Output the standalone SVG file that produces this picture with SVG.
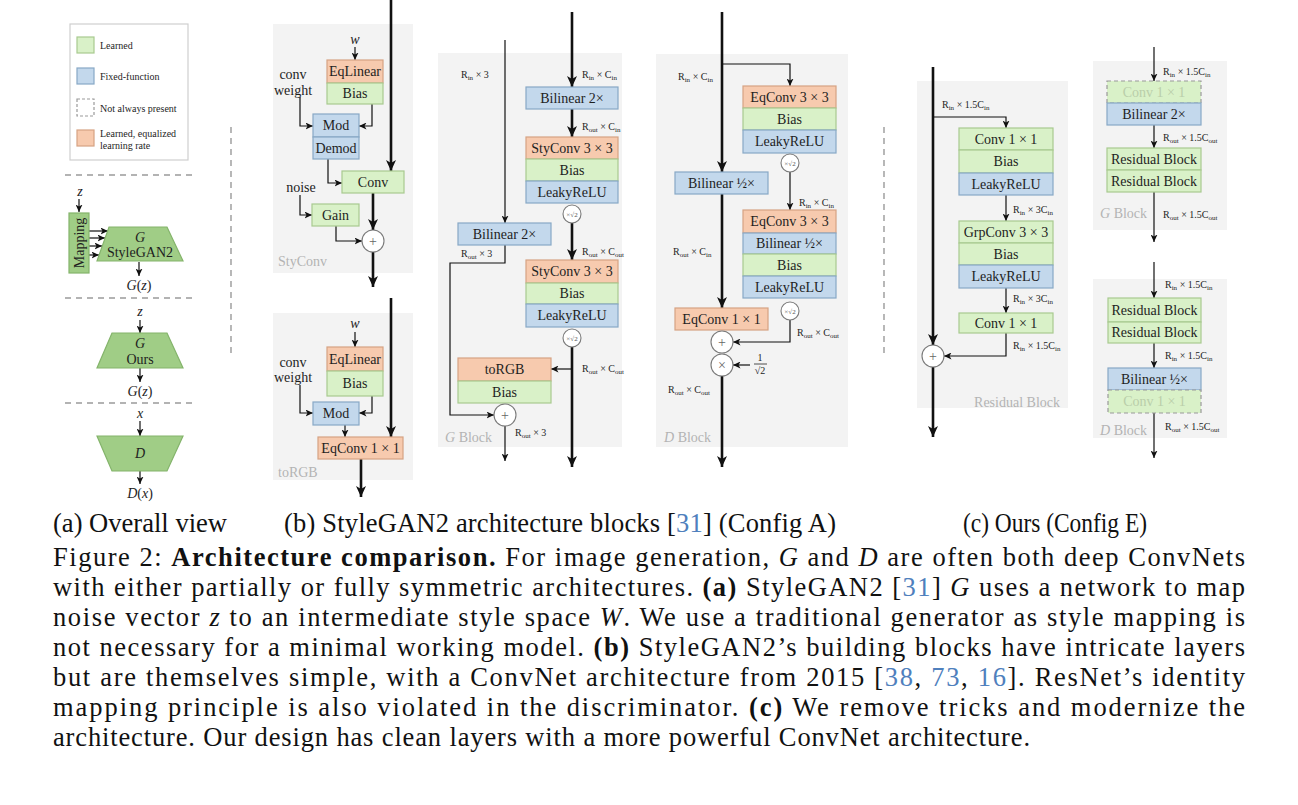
<svg xmlns="http://www.w3.org/2000/svg" width="1298" height="805" viewBox="0 0 1298 805">
<defs>
<style>
.g{fill:#d9f1c8;stroke:#a8ca90;stroke-width:1.2}
.b{fill:#c3d8ec;stroke:#88a8c6;stroke-width:1.2}
.o{fill:#f7caae;stroke:#d6a283;stroke-width:1.2}
.dg{fill:#d9f1c8;stroke:#9a9a9a;stroke-width:1.2;stroke-dasharray:4 3}
.tg{fill:#a0cd86;stroke:#84b46b;stroke-width:1.2}
.panel{fill:#f3f3f3}
text{font-family:"Liberation Serif","DejaVu Serif",serif;fill:#1e1e1e}
.t{font-size:14px;text-anchor:middle}
.tf{font-size:14px;text-anchor:middle;fill:#b9ceaa}
.i{font-style:italic}
.l{font-size:10px}
.s{font-size:7px}
.lg{font-size:10px}
.gray{font-size:14px;fill:#b3b3b3}
.cap{font-size:26.5px;fill:#111}
.blue{fill:#4f80bd}
.thick{stroke:#111;stroke-width:2.6;fill:none}
.thin{stroke:#111;stroke-width:1.2;fill:none}
.dash{stroke:#9a9a9a;stroke-width:1.4;stroke-dasharray:6 5;fill:none}
.circ{fill:#fff;stroke:#7a7a7a;stroke-width:1.1}
.ct{font-size:14px;text-anchor:middle;fill:#666}
.cs{font-size:7px;text-anchor:middle;fill:#555}
</style>
<marker id="ah" markerUnits="userSpaceOnUse" markerWidth="12" markerHeight="10" refX="11" refY="5" orient="auto"><path d="M0,0 L11,5 L0,10 L3,5 z" fill="#111"/></marker>
<marker id="at" markerUnits="userSpaceOnUse" markerWidth="8" markerHeight="7" refX="7.5" refY="3.5" orient="auto"><path d="M0,0 L7.5,3.5 L0,7 L2,3.5 z" fill="#111"/></marker>
</defs>
<rect width="1298" height="805" fill="#fff"/>

<!-- panels -->
<g id="panels">
<rect class="panel" x="273" y="24" width="140" height="249"/>
<rect class="panel" x="273" y="313" width="140" height="167"/>
<rect class="panel" x="438" y="53" width="184" height="394"/>
<rect class="panel" x="656" y="54" width="192" height="393"/>
<rect class="panel" x="917" y="81" width="151" height="327"/>
<rect class="panel" x="1093" y="61" width="134" height="169"/>
<rect class="panel" x="1093" y="279" width="134" height="159"/>
<text class="gray" x="278" y="266">StyConv</text>
<text class="gray" x="278" y="477">toRGB</text>
<text class="gray" x="445" y="442"><tspan class="i">G</tspan> Block</text>
<text class="gray" x="664" y="442"><tspan class="i">D</tspan> Block</text>
<text class="gray" x="1060" y="407" text-anchor="end">Residual Block</text>
<text class="gray" x="1100" y="218"><tspan class="i">G</tspan> Block</text>
<text class="gray" x="1100" y="435"><tspan class="i">D</tspan> Block</text>
</g>

<!-- separators -->
<g id="separators">
<line class="dash" x1="231" y1="127" x2="231" y2="355"/>
<line class="dash" x1="884" y1="127" x2="884" y2="355"/>
<line class="dash" x1="65" y1="175" x2="193" y2="175"/>
<line class="dash" x1="65" y1="298" x2="193" y2="298"/>
<line class="dash" x1="65" y1="403" x2="193" y2="403"/>
</g>

<!-- legend -->
<g id="legend">
<rect x="70" y="24" width="118" height="136" fill="#fff" stroke="#cfcfcf" stroke-width="1.2"/>
<rect class="g" x="77" y="37" width="17" height="16"/>
<rect class="b" x="77" y="68" width="17" height="16"/>
<rect x="77" y="99" width="17" height="17" fill="none" stroke="#9a9a9a" stroke-width="1.2" stroke-dasharray="3 2"/>
<rect class="o" x="77" y="130" width="17" height="16"/>
<text class="lg" x="100" y="49">Learned</text>
<text class="lg" x="100" y="80">Fixed-function</text>
<text class="lg" x="100" y="112" fill="#b5b5b5">Not always present</text>
<text class="lg" x="100" y="137">Learned, equalized</text>
<text class="lg" x="100" y="149">learning rate</text>
</g>

<!-- connectors -->
<g id="connectors">
<path class="thin" d="M79,199 V212" marker-end="url(#at)"/>
<path class="thin" d="M89,231 H108" marker-end="url(#at)"/>
<path class="thin" d="M89,238 H105" marker-end="url(#at)"/>
<path class="thin" d="M89,246 H102" marker-end="url(#at)"/>
<path class="thin" d="M89,255 H99" marker-end="url(#at)"/>
<path class="thin" d="M139,262 V276" marker-end="url(#at)"/>
<path class="thin" d="M140,320 V333" marker-end="url(#at)"/>
<path class="thin" d="M140,368 V382" marker-end="url(#at)"/>
<path class="thin" d="M140,421 V436" marker-end="url(#at)"/>
<path class="thin" d="M140,471 V484" marker-end="url(#at)"/>
<path class="thick" d="M391,0 V171" marker-end="url(#ah)"/>
<path class="thin" d="M355,47 V60" marker-end="url(#at)"/>
<path class="thin" d="M300,97 V126 H313" marker-end="url(#at)"/>
<path class="thin" d="M372,104 V126 H359" marker-end="url(#at)"/>
<path class="thin" d="M328,159 V183 H342" marker-end="url(#at)"/>
<path class="thin" d="M300,195 V215 H312" marker-end="url(#at)"/>
<path class="thin" d="M336,226 V241 H362" marker-end="url(#at)"/>
<path class="thick" d="M373,193 V230" marker-end="url(#ah)"/>
<path class="thick" d="M373,252 V287" marker-end="url(#ah)"/>
<path class="thick" d="M391,298 V437" marker-end="url(#ah)"/>
<path class="thin" d="M355,332 V347" marker-end="url(#at)"/>
<path class="thin" d="M300,385 V413 H313" marker-end="url(#at)"/>
<path class="thin" d="M372,396 V413 H359" marker-end="url(#at)"/>
<path class="thin" d="M345,425 V437" marker-end="url(#at)"/>
<path class="thick" d="M361,459 V497" marker-end="url(#ah)"/>
<path class="thin" d="M505,40 V223" marker-end="url(#at)"/>
<path class="thick" d="M572,12 V87" marker-end="url(#ah)"/>
<path class="thick" d="M572,109 V137" marker-end="url(#ah)"/>
<path class="thick" d="M572,223 V260" marker-end="url(#ah)"/>
<path class="thin" d="M505,245 V263 H450 V415 H494" marker-end="url(#at)"/>
<path class="thick" d="M572,347 V467" marker-end="url(#ah)"/>
<path class="thin" d="M572,369 H551" marker-end="url(#at)"/>
<path class="thin" d="M505,426 V461" marker-end="url(#at)"/>
<path class="thick" d="M722,12 V172" marker-end="url(#ah)"/>
<path class="thin" d="M722,64 H790 V86" marker-end="url(#at)"/>
<path class="thin" d="M790,172 V210" marker-end="url(#at)"/>
<path class="thick" d="M722,194 V308" marker-end="url(#ah)"/>
<path class="thin" d="M790,320 V342 H733" marker-end="url(#at)"/>
<path class="thin" d="M750,365 H733" marker-end="url(#at)"/>
<path class="thick" d="M722,376 V467" marker-end="url(#ah)"/>
<path class="thick" d="M933,67 V345" marker-end="url(#ah)"/>
<path class="thin" d="M933,117 H1006 V128" marker-end="url(#at)"/>
<path class="thin" d="M1006,195 V221" marker-end="url(#at)"/>
<path class="thin" d="M1006,288 V313" marker-end="url(#at)"/>
<path class="thin" d="M1006,333 V356 H944" marker-end="url(#at)"/>
<path class="thick" d="M933,367 V437" marker-end="url(#ah)"/>
<path class="thin" d="M1154,47 V81" marker-end="url(#at)"/>
<path class="thin" d="M1154,125 V148" marker-end="url(#at)"/>
<path class="thin" d="M1154,192 V242" marker-end="url(#at)"/>
<path class="thin" d="M1154,262 V298" marker-end="url(#at)"/>
<path class="thin" d="M1154,343 V368" marker-end="url(#at)"/>
<path class="thin" d="M1154,413 V458" marker-end="url(#at)"/>
</g>

<!-- overall view nodes -->
<g id="ov-z1"><text class="t i" x="80" y="196">z</text></g>
<g id="ov-mapping"><rect class="tg" x="69" y="213" width="20" height="60"/><text class="t" transform="translate(84,243) rotate(-90)" x="0" y="0">Mapping</text></g>
<g id="ov-stylegan2"><polygon class="tg" points="109,227 167,227 183,261 97,261"/><text class="t i" x="140" y="242">G</text><text class="t" x="140" y="257">StyleGAN2</text></g>
<g id="ov-gz1"><text class="t" x="139" y="290"><tspan class="i">G</tspan>(<tspan class="i">z</tspan>)</text></g>
<g id="ov-z2"><text class="t i" x="140" y="316">z</text></g>
<g id="ov-ours"><polygon class="tg" points="112,333 167,333 183,368 97,368"/><text class="t i" x="140" y="348">G</text><text class="t" x="140" y="364">Ours</text></g>
<g id="ov-gz2"><text class="t" x="140" y="396"><tspan class="i">G</tspan>(<tspan class="i">z</tspan>)</text></g>
<g id="ov-x"><text class="t i" x="140" y="418">x</text></g>
<g id="ov-d"><polygon class="tg" points="97,436 183,436 167,471 112,471"/><text class="t i" x="140" y="458">D</text></g>
<g id="ov-dx"><text class="t" x="140" y="498"><tspan class="i">D</tspan>(<tspan class="i">x</tspan>)</text></g>

<!-- StyConv nodes -->
<g id="sc-w"><text class="t i" x="355" y="44">w</text></g>
<g id="sc-eqlinear"><rect class="o" x="327" y="60" width="56" height="23"/><text class="t" x="355" y="76">EqLinear</text></g>
<g id="sc-bias"><rect class="g" x="327" y="83" width="56" height="21"/><text class="t" x="355" y="98">Bias</text></g>
<g id="sc-convweight"><text class="t" x="293" y="79">conv</text><text class="t" x="293" y="95">weight</text></g>
<g id="sc-mod"><rect class="b" x="313" y="114" width="46" height="23"/><text class="t" x="336" y="130">Mod</text></g>
<g id="sc-demod"><rect class="b" x="313" y="137" width="46" height="22"/><text class="t" x="336" y="153">Demod</text></g>
<g id="sc-conv"><rect class="g" x="342" y="171" width="62" height="22"/><text class="t" x="373" y="187">Conv</text></g>
<g id="sc-noise"><text class="t" x="301" y="192">noise</text></g>
<g id="sc-gain"><rect class="g" x="312" y="204" width="47" height="22"/><text class="t" x="335.5" y="220">Gain</text></g>
<g id="sc-add"><circle class="circ" cx="373" cy="241" r="11"/><text class="ct" x="373" y="246">+</text></g>

<!-- toRGB nodes -->
<g id="tr-w"><text class="t i" x="355" y="328">w</text></g>
<g id="tr-eqlinear"><rect class="o" x="327" y="347" width="56" height="24"/><text class="t" x="355" y="364">EqLinear</text></g>
<g id="tr-bias"><rect class="g" x="327" y="371" width="56" height="25"/><text class="t" x="355" y="388">Bias</text></g>
<g id="tr-convweight"><text class="t" x="293" y="367">conv</text><text class="t" x="293" y="382">weight</text></g>
<g id="tr-mod"><rect class="b" x="313" y="402" width="46" height="23"/><text class="t" x="336" y="418">Mod</text></g>
<g id="tr-eqconv"><rect class="o" x="318" y="437" width="85" height="22"/><text class="t" x="360.5" y="453">EqConv 1 × 1</text></g>

<!-- G block nodes -->
<g id="gb-labels">
<text class="l" x="461" y="78">R<tspan class="s" dy="2">in</tspan><tspan dy="-2"> × 3</tspan></text>
<text class="l" x="582" y="78">R<tspan class="s" dy="2">in</tspan><tspan dy="-2"> × C</tspan><tspan class="s" dy="2">in</tspan></text>
<text class="l" x="582" y="130">R<tspan class="s" dy="2">out</tspan><tspan dy="-2"> × C</tspan><tspan class="s" dy="2">in</tspan></text>
<text class="l" x="582" y="255">R<tspan class="s" dy="2">out</tspan><tspan dy="-2"> × C</tspan><tspan class="s" dy="2">out</tspan></text>
<text class="l" x="461" y="257">R<tspan class="s" dy="2">out</tspan><tspan dy="-2"> × 3</tspan></text>
<text class="l" x="582" y="372">R<tspan class="s" dy="2">out</tspan><tspan dy="-2"> × C</tspan><tspan class="s" dy="2">out</tspan></text>
<text class="l" x="515" y="436">R<tspan class="s" dy="2">out</tspan><tspan dy="-2"> × 3</tspan></text>
</g>
<g id="gb-bilinear"><rect class="b" x="526" y="87" width="92" height="22"/><text class="t" x="572" y="103">Bilinear 2×</text></g>
<g id="gb-styconv1"><rect class="o" x="526" y="137" width="92" height="22"/><text class="t" x="572" y="153">StyConv 3 × 3</text></g>
<g id="gb-bias1"><rect class="g" x="526" y="159" width="92" height="22"/><text class="t" x="572" y="175">Bias</text></g>
<g id="gb-lrelu1"><rect class="b" x="526" y="181" width="92" height="22"/><text class="t" x="572" y="197">LeakyReLU</text></g>
<g id="gb-scale1"><circle class="circ" cx="572" cy="214" r="9"/><text class="cs" x="572" y="216.5">×√2</text></g>
<g id="gb-bilinear-skip"><rect class="b" x="458" y="223" width="93" height="22"/><text class="t" x="504.5" y="239">Bilinear 2×</text></g>
<g id="gb-styconv2"><rect class="o" x="526" y="260" width="92" height="23"/><text class="t" x="572" y="276">StyConv 3 × 3</text></g>
<g id="gb-bias2"><rect class="g" x="526" y="283" width="92" height="21"/><text class="t" x="572" y="298">Bias</text></g>
<g id="gb-lrelu2"><rect class="b" x="526" y="304" width="92" height="23"/><text class="t" x="572" y="320">LeakyReLU</text></g>
<g id="gb-scale2"><circle class="circ" cx="572" cy="338" r="9"/><text class="cs" x="572" y="340.5">×√2</text></g>
<g id="gb-torgb"><rect class="o" x="458" y="358" width="93" height="23"/><text class="t" x="504.5" y="374">toRGB</text></g>
<g id="gb-bias3"><rect class="g" x="458" y="381" width="93" height="22"/><text class="t" x="504.5" y="397">Bias</text></g>
<g id="gb-add"><circle class="circ" cx="505" cy="415" r="11"/><text class="ct" x="505" y="420">+</text></g>

<!-- D block nodes -->
<g id="db-labels">
<text class="l" x="678" y="80">R<tspan class="s" dy="2">in</tspan><tspan dy="-2"> × C</tspan><tspan class="s" dy="2">in</tspan></text>
<text class="l" x="799" y="206">R<tspan class="s" dy="2">in</tspan><tspan dy="-2"> × C</tspan><tspan class="s" dy="2">in</tspan></text>
<text class="l" x="673" y="255">R<tspan class="s" dy="2">out</tspan><tspan dy="-2"> × C</tspan><tspan class="s" dy="2">in</tspan></text>
<text class="l" x="797" y="336">R<tspan class="s" dy="2">out</tspan><tspan dy="-2"> × C</tspan><tspan class="s" dy="2">out</tspan></text>
<text class="l" x="668" y="393">R<tspan class="s" dy="2">out</tspan><tspan dy="-2"> × C</tspan><tspan class="s" dy="2">out</tspan></text>
</g>
<g id="db-eqconv1"><rect class="o" x="743" y="86" width="93" height="22"/><text class="t" x="789.5" y="102">EqConv 3 × 3</text></g>
<g id="db-bias1"><rect class="g" x="743" y="108" width="93" height="22"/><text class="t" x="789.5" y="124">Bias</text></g>
<g id="db-lrelu1"><rect class="b" x="743" y="130" width="93" height="23"/><text class="t" x="789.5" y="146">LeakyReLU</text></g>
<g id="db-scale1"><circle class="circ" cx="790" cy="163" r="9"/><text class="cs" x="790" y="165.5">×√2</text></g>
<g id="db-bilinear-skip"><rect class="b" x="675" y="172" width="93" height="22"/><text class="t" x="721.5" y="188">Bilinear ½×</text></g>
<g id="db-eqconv2"><rect class="o" x="743" y="210" width="93" height="23"/><text class="t" x="789.5" y="226">EqConv 3 × 3</text></g>
<g id="db-bilinear"><rect class="b" x="743" y="233" width="93" height="21"/><text class="t" x="789.5" y="248">Bilinear ½×</text></g>
<g id="db-bias2"><rect class="g" x="743" y="254" width="93" height="22"/><text class="t" x="789.5" y="270">Bias</text></g>
<g id="db-lrelu2"><rect class="b" x="743" y="276" width="93" height="22"/><text class="t" x="789.5" y="292">LeakyReLU</text></g>
<g id="db-scale2"><circle class="circ" cx="790" cy="311" r="9"/><text class="cs" x="790" y="313.5">×√2</text></g>
<g id="db-eqconv1x1"><rect class="o" x="675" y="308" width="93" height="22"/><text class="t" x="721.5" y="324">EqConv 1 × 1</text></g>
<g id="db-add"><circle class="circ" cx="722" cy="342" r="11"/><text class="ct" x="722" y="347">+</text></g>
<g id="db-mul"><circle class="circ" cx="722" cy="365" r="11"/><text class="ct" x="722" y="370">×</text></g>
<g id="db-frac"><text class="l" x="760" y="361" text-anchor="middle">1</text><line x1="754" y1="364" x2="767" y2="364" stroke="#222" stroke-width="0.8"/><text class="l" x="760" y="374" text-anchor="middle">√2</text></g>

<!-- Residual block nodes -->
<g id="rb-labels">
<text class="l" x="942" y="108">R<tspan class="s" dy="2">in</tspan><tspan dy="-2"> × 1.5C</tspan><tspan class="s" dy="2">in</tspan></text>
<text class="l" x="1013" y="213">R<tspan class="s" dy="2">in</tspan><tspan dy="-2"> × 3C</tspan><tspan class="s" dy="2">in</tspan></text>
<text class="l" x="1013" y="302">R<tspan class="s" dy="2">in</tspan><tspan dy="-2"> × 3C</tspan><tspan class="s" dy="2">in</tspan></text>
<text class="l" x="1013" y="349">R<tspan class="s" dy="2">in</tspan><tspan dy="-2"> × 1.5C</tspan><tspan class="s" dy="2">in</tspan></text>
</g>
<g id="rb-conv1"><rect class="g" x="959" y="128" width="94" height="22"/><text class="t" x="1006" y="144">Conv 1 × 1</text></g>
<g id="rb-bias1"><rect class="g" x="959" y="150" width="94" height="23"/><text class="t" x="1006" y="166">Bias</text></g>
<g id="rb-lrelu1"><rect class="b" x="959" y="173" width="94" height="22"/><text class="t" x="1006" y="189">LeakyReLU</text></g>
<g id="rb-grpconv"><rect class="g" x="959" y="221" width="94" height="22"/><text class="t" x="1006" y="237">GrpConv 3 × 3</text></g>
<g id="rb-bias2"><rect class="g" x="959" y="243" width="94" height="22"/><text class="t" x="1006" y="259">Bias</text></g>
<g id="rb-lrelu2"><rect class="b" x="959" y="265" width="94" height="23"/><text class="t" x="1006" y="281">LeakyReLU</text></g>
<g id="rb-conv2"><rect class="g" x="959" y="313" width="94" height="20"/><text class="t" x="1006" y="328">Conv 1 × 1</text></g>
<g id="rb-add"><circle class="circ" cx="933" cy="356" r="11"/><text class="ct" x="933" y="361">+</text></g>

<!-- right G block nodes -->
<g id="rg-labels">
<text class="l" x="1163" y="75">R<tspan class="s" dy="2">in</tspan><tspan dy="-2"> × 1.5C</tspan><tspan class="s" dy="2">in</tspan></text>
<text class="l" x="1163" y="141">R<tspan class="s" dy="2">out</tspan><tspan dy="-2"> × 1.5C</tspan><tspan class="s" dy="2">out</tspan></text>
<text class="l" x="1163" y="218">R<tspan class="s" dy="2">out</tspan><tspan dy="-2"> × 1.5C</tspan><tspan class="s" dy="2">out</tspan></text>
</g>
<g id="rg-conv"><rect class="dg" x="1107" y="81" width="94" height="22"/><text class="tf" x="1154" y="97">Conv 1 × 1</text></g>
<g id="rg-bilinear"><rect class="b" x="1107" y="103" width="94" height="22"/><text class="t" x="1154" y="119">Bilinear 2×</text></g>
<g id="rg-res1"><rect class="g" x="1107" y="148" width="94" height="22"/><text class="t" x="1154" y="164">Residual Block</text></g>
<g id="rg-res2"><rect class="g" x="1107" y="170" width="94" height="22"/><text class="t" x="1154" y="186">Residual Block</text></g>

<!-- right D block nodes -->
<g id="rd-labels">
<text class="l" x="1165" y="288">R<tspan class="s" dy="2">in</tspan><tspan dy="-2"> × 1.5C</tspan><tspan class="s" dy="2">in</tspan></text>
<text class="l" x="1165" y="359">R<tspan class="s" dy="2">in</tspan><tspan dy="-2"> × 1.5C</tspan><tspan class="s" dy="2">in</tspan></text>
<text class="l" x="1165" y="430">R<tspan class="s" dy="2">out</tspan><tspan dy="-2"> × 1.5C</tspan><tspan class="s" dy="2">out</tspan></text>
</g>
<g id="rd-res1"><rect class="g" x="1108" y="298" width="93" height="24"/><text class="t" x="1154.5" y="315">Residual Block</text></g>
<g id="rd-res2"><rect class="g" x="1108" y="322" width="93" height="21"/><text class="t" x="1154.5" y="337">Residual Block</text></g>
<g id="rd-bilinear"><rect class="b" x="1108" y="368" width="93" height="22"/><text class="t" x="1154.5" y="384">Bilinear ½×</text></g>
<g id="rd-conv"><rect class="dg" x="1108" y="390" width="93" height="23"/><text class="tf" x="1154.5" y="406">Conv 1 × 1</text></g>

<!-- captions -->
<g id="captions">
<text class="cap" x="53" y="532" textLength="174" lengthAdjust="spacingAndGlyphs">(a) Overall view</text>
<text class="cap" x="284" y="532" textLength="552" lengthAdjust="spacing">(b) StyleGAN2 architecture blocks [<tspan class="blue">31</tspan>] (Config A)</text>
<text class="cap" x="963" y="532" textLength="184" lengthAdjust="spacingAndGlyphs">(c) Ours (Config E)</text>
<text class="cap" x="53" y="566" textLength="1192" lengthAdjust="spacing">Figure 2: <tspan font-weight="bold">Architecture comparison.</tspan> For image generation, <tspan class="i">G</tspan> and <tspan class="i">D</tspan> are often both deep ConvNets</text>
<text class="cap" x="53" y="596" textLength="1192" lengthAdjust="spacing">with either partially or fully symmetric architectures. <tspan font-weight="bold">(a)</tspan> StyleGAN2 [<tspan class="blue">31</tspan>] <tspan class="i">G</tspan> uses a network to map</text>
<text class="cap" x="53" y="626" textLength="1192" lengthAdjust="spacing">noise vector <tspan class="i">z</tspan> to an intermediate style space <tspan class="i">W</tspan>. We use a traditional generator as style mapping is</text>
<text class="cap" x="53" y="656" textLength="1192" lengthAdjust="spacing">not necessary for a minimal working model. <tspan font-weight="bold">(b)</tspan> StyleGAN2’s building blocks have intricate layers</text>
<text class="cap" x="53" y="686" textLength="1192" lengthAdjust="spacing">but are themselves simple, with a ConvNet architecture from 2015 [<tspan class="blue">38</tspan>, <tspan class="blue">73</tspan>, <tspan class="blue">16</tspan>]. ResNet’s identity</text>
<text class="cap" x="53" y="716" textLength="1192" lengthAdjust="spacing">mapping principle is also violated in the discriminator. <tspan font-weight="bold">(c)</tspan> We remove tricks and modernize the</text>
<text class="cap" x="53" y="746" textLength="977" lengthAdjust="spacing">architecture. Our design has clean layers with a more powerful ConvNet architecture.</text>
</g>
</svg>
